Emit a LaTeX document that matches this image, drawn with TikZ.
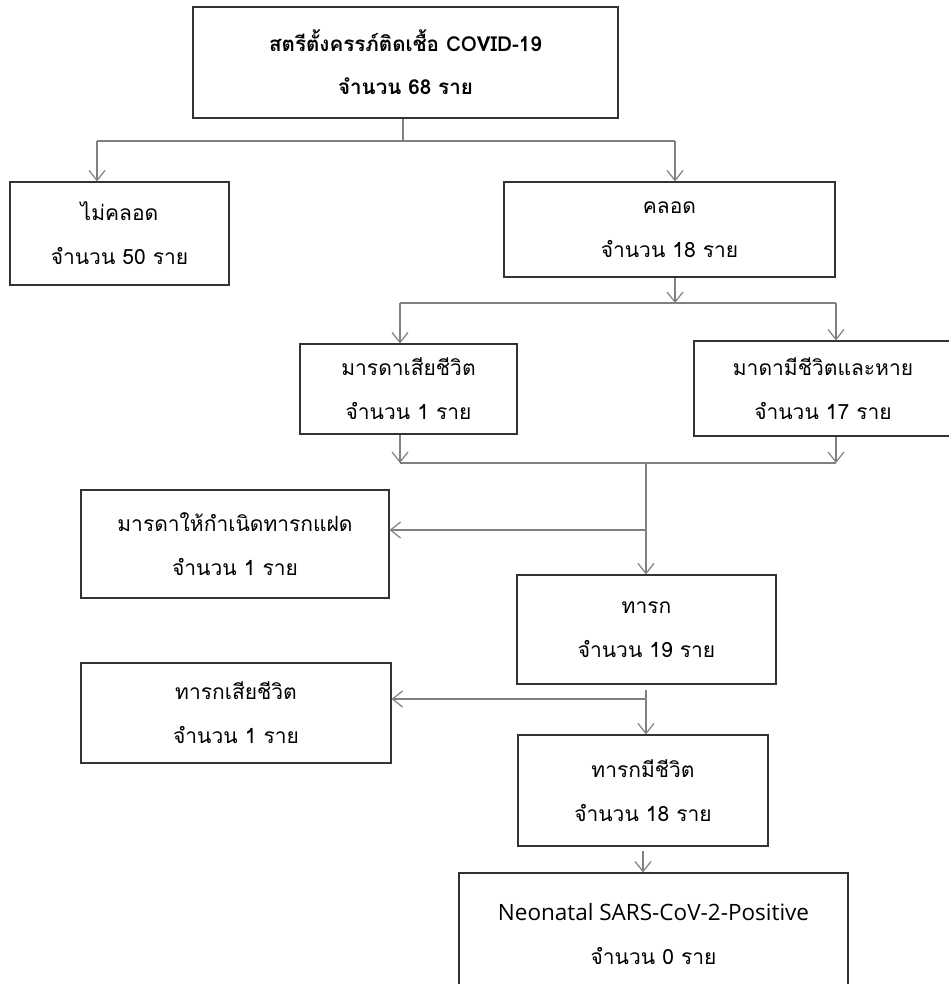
\documentclass[tikz,border=0pt]{standalone}
\usepackage{fontspec}
\newfontfamily\thai[Script=Thai]{Loma}
\newfontfamily\latin{Open Sans}
\usetikzlibrary{shapes, arrows.meta, positioning}
\tikzset{
	box/.style={draw=black!80, line width=1.2pt, align=center,
		font=\thai\fontsize{21}{44}\selectfont},
	link/.style={draw=black!50, line width=1.4pt},
	arr/.style={link, -{Straight Barb[length=10pt,width=16pt,line width=1.2pt]}}
}
\begin{document}
\begin{tikzpicture}[x=1pt,y=-1pt]
	\useasboundingbox (0,0) rectangle (948,984);
	% draw rectangle node
	\node[box,
	minimum width=425,
	minimum height=111,
	font=\thai\bfseries\fontsize{20.6}{43}\selectfont] (mother) at (405.5,62.5) {
	สตรีตั้งครรภ์ติดเชื้อ COVID-19\\จำนวน 68 ราย
	};
	\node[box,
	minimum width=219,
	minimum height=103] (nodeliv) at (119.5,233.5) {
	ไม่คลอด\\จำนวน 50 ราย
	};
	\node[box,
	minimum width=331,
	minimum height=95] (deliv) at (669.5,229.5) {
	คลอด\\จำนวน 18 ราย
	};
	\node[box,
	minimum width=217,
	minimum height=90] (mdeath) at (408.5,389) {
	มารดาเสียชีวิต\\จำนวน 1 ราย
	};
	\node[box,
	minimum width=258,
	minimum height=95] (malive) at (823,388.5) {
	มาดามีชีวิตและหาย\\จำนวน 17 ราย
	};
	\node[box,
	minimum width=308,
	minimum height=108] (twins) at (235,544) {
	มารดาให้กำเนิดทารกแฝด\\จำนวน 1 ราย
	};
	\node[box,
	minimum width=259,
	minimum height=109] (baby) at (646.5,629.5) {
	ทารก\\จำนวน 19 ราย
	};
	\node[box,
	minimum width=310,
	minimum height=100] (bdeath) at (236,713) {
	ทารกเสียชีวิต\\จำนวน 1 ราย
	};
	\node[box,
	minimum width=250,
	minimum height=111] (balive) at (643,790.5) {
	ทารกมีชีวิต\\จำนวน 18 ราย
	};
	\node[box,
	minimum width=389,
	minimum height=122] (neo) at (653.5,934) {
	{\latin\fontsize{22.5}{44}\selectfont Neonatal SARS-CoV-2-Positive}\\จำนวน 0 ราย
	};
	% junctions
	\coordinate (j1) at (403,141);
	\coordinate (j2) at (675,303);
	\coordinate (j3) at (646,463);
	\coordinate (j4) at (646,530);
	\coordinate (j5) at (646,699);
	% Arrows
	\draw[link] (mother.south -| j1) -- (j1);
	\draw[link] (j1 -| 97,0) -- (j1 -| j2);
	\draw[arr] (j1 -| 97,0) -- (nodeliv.north -| 97,0);
	\draw[arr] (j1 -| j2) -- (deliv.north -| j2);
	\draw[arr] (deliv.south -| j2) -- (j2);
	\draw[link] (j2 -| 400,0) -- (j2 -| 836,0);
	\draw[arr] (j2 -| 400,0) -- (mdeath.north -| 400,0);
	\draw[arr] (j2 -| 836,0) -- (malive.north -| 836,0);
	\draw[arr] (mdeath.south -| 400,0) -- (j3 -| 400,0);
	\draw[arr] (malive.south -| 836,0) -- (j3 -| 836,0);
	\draw[link] (j3 -| 400,0) -- (j3 -| 836,0);
	\draw[arr] (j3) -- (baby.north -| j3);
	\draw[arr] (j4) -- (j4 -| twins.east);
	\draw[arr] (baby.south -| j5) ++(0,5) -- (balive.north -| j5);
	\draw[arr] (j5) -- (j5 -| bdeath.east);
	\draw[arr] (balive.south -| 643,0) ++(0,4) -- (neo.north -| 643,0);
\end{tikzpicture}
\end{document}
